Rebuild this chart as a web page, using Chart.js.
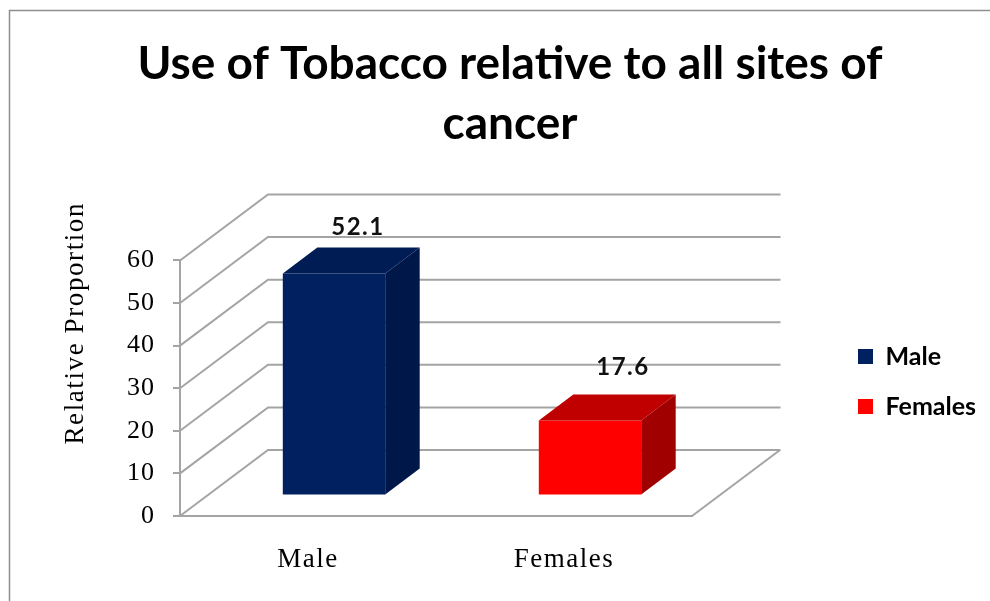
<!DOCTYPE html>
<html><head><meta charset="utf-8">
<style>html,body{margin:0;padding:0;background:#fff;overflow:hidden}canvas{display:block}</style>
<script src="https://cdn.jsdelivr.net/npm/chart.js@4"></script>
</head><body><canvas id="c" width="990" height="601"></canvas>
<script>
const categories = ['Male', 'Females'];
const values = [52.1, 17.6];
const legendLabels = ['Male', 'Females'];
const yTicks = [0, 10, 20, 30, 40, 50, 60];
const titleLines = ['Use of Tobacco relative to all sites of', 'cancer'];
const yAxisTitle = 'Relative Proportion';
const frontColors = ['#002060', '#ff0000'];
const topColors = ['#001C54', '#C00000'];
const sideColors = ['#00174A', '#A00000'];

const GRID = '#a4a4a4';
const wall = {dx: 88, dy: -66};
const barShift = {dx: 26, dy: -20.5};
const barDepth = {dx: 34.5, dy: -26};
const labelLift = [67, 74];
const labelShift = [50, 59];

function spaced(ctx, spacing, fn, dy) {
  ctx.save();
  ctx.letterSpacing = spacing;
  if (dy) ctx.translate(0, dy);
  fn();
  ctx.restore();
}

const threeD = {
  id: 'threeD',
  beforeLayout(chart) {
    const lg = chart.legend;
    if (lg && !lg._patched) {
      const f = lg.fit;
      lg.fit = function () { f.call(this); this.width = 298; };
      lg._patched = true;
    }
  },
  afterLayout(chart) {
    const lg = chart.legend;
    lg.left = 858 - lg.options.labels.padding;
    lg.top = 344 - lg.options.labels.padding;
    const x = chart.scales.x, y = chart.scales.y, c = chart.ctx;
    if (!y._patched) {
      const xl = x.drawLabels, yl = y.drawLabels, yt = y.drawTitle;
      x.drawLabels = function (a) { spaced(c, '1.5px', () => xl.call(this, a)); };
      y.drawLabels = function (a) { spaced(c, '1px', () => yl.call(this, a)); };
      y.drawTitle = function () { spaced(c, '1.6px', () => yt.call(this), -65); };
      y._patched = true;
    }
  },
  beforeDraw(chart) {
    const c = chart.ctx;
    c.save();
    c.strokeStyle = '#8e8e8e'; c.lineWidth = 1.5;
    c.beginPath(); c.moveTo(9.5, 601); c.lineTo(9.5, 10.5); c.lineTo(990, 10.5); c.stroke();
    c.restore();
  },
  beforeDatasetsDraw(chart) {
    const c = chart.ctx, y = chart.scales.y, a = chart.chartArea;
    c.save();
    c.strokeStyle = GRID; c.lineWidth = 2;
    yTicks.forEach(v => {
      const p = y.getPixelForValue(v);
      c.beginPath();
      c.moveTo(a.left, p);
      c.lineTo(a.left + wall.dx, p + wall.dy);
      c.lineTo(a.right + wall.dx + 0.5, p + wall.dy);
      c.stroke();
    });
    const p0 = y.getPixelForValue(0);
    c.beginPath();
    c.moveTo(a.right, p0);
    c.lineTo(a.right + wall.dx, p0 + wall.dy);
    c.stroke();
    c.restore();
    c.save();
    c.translate(barShift.dx, barShift.dy);
  },
  afterDatasetsDraw(chart) {
    const c = chart.ctx;
    c.restore();
    chart.getDatasetMeta(0).data.forEach((b, i) => {
      const hw = b.width / 2;
      const l = b.x - hw + barShift.dx, r = b.x + hw + barShift.dx;
      const t = b.y + barShift.dy, bt = b.base + barShift.dy;
      c.fillStyle = topColors[i];
      c.beginPath();
      c.moveTo(l, t); c.lineTo(l + barDepth.dx, t + barDepth.dy);
      c.lineTo(r + barDepth.dx, t + barDepth.dy); c.lineTo(r, t); c.closePath(); c.fill();
      c.fillStyle = sideColors[i];
      c.beginPath();
      c.moveTo(r, t); c.lineTo(r + barDepth.dx, t + barDepth.dy);
      c.lineTo(r + barDepth.dx, bt + barDepth.dy); c.lineTo(r, bt); c.closePath(); c.fill();
      c.save();
      c.fillStyle = '#111';
      c.font = 'bold 24px Lato';
      c.letterSpacing = '1.5px';
      c.textAlign = 'center'; c.textBaseline = 'middle';
      c.fillText(String(values[i]), b.x + labelShift[i], b.y - labelLift[i]);
      c.restore();
    });
  }
};

new Chart(document.getElementById('c'), {
  type: 'bar',
  data: {
    labels: categories,
    datasets: [{
      data: values,
      backgroundColor: frontColors,
      barPercentage: 0.4,
      categoryPercentage: 1
    }]
  },
  plugins: [threeD],
  options: {
    responsive: false,
    devicePixelRatio: 1,
    animation: false,
    layout: {padding: {left: 30, right: 0, top: 0, bottom: 0}},
    plugins: {
      tooltip: {enabled: false},
      title: {
        display: true,
        text: titleLines,
        color: '#000',
        font: {family: 'Lato', weight: 'bold', size: 46, lineHeight: 1.304},
        padding: {top: 34, bottom: 106.5}
      },
      legend: {
        position: 'right',
        align: 'start',
        labels: {
          boxWidth: 15, boxHeight: 15, padding: 25, color: '#000',
          font: {family: 'Lato', weight: 'bold', size: 25},
          generateLabels: () => legendLabels.map((t, i) => ({
            text: t, fillStyle: frontColors[i], strokeStyle: frontColors[i], lineWidth: 0, index: i
          }))
        }
      }
    },
    scales: {
      x: {
        afterFit: s => { s.height = 85; },
        grid: {display: false},
        border: {display: true, color: GRID, width: 2},
        ticks: {color: '#000', padding: 20, font: {family: 'Liberation Serif', size: 27}}
      },
      y: {
        min: 0, max: 60,
        afterFit: s => { s.width = 150; },
        afterBuildTicks: s => { s.ticks = yTicks.map(v => ({value: v})); },
        border: {display: true, color: GRID, width: 2},
        grid: {drawOnChartArea: false, color: GRID, lineWidth: 2, tickLength: 7},
        ticks: {color: '#000', padding: 18, font: {family: 'Liberation Serif', size: 26}},
        title: {
          display: true, text: yAxisTitle, color: '#000',
          font: {family: 'Liberation Serif', size: 27},
          padding: {top: 30, bottom: 0}
        }
      }
    }
  }
});
</script></body></html>
